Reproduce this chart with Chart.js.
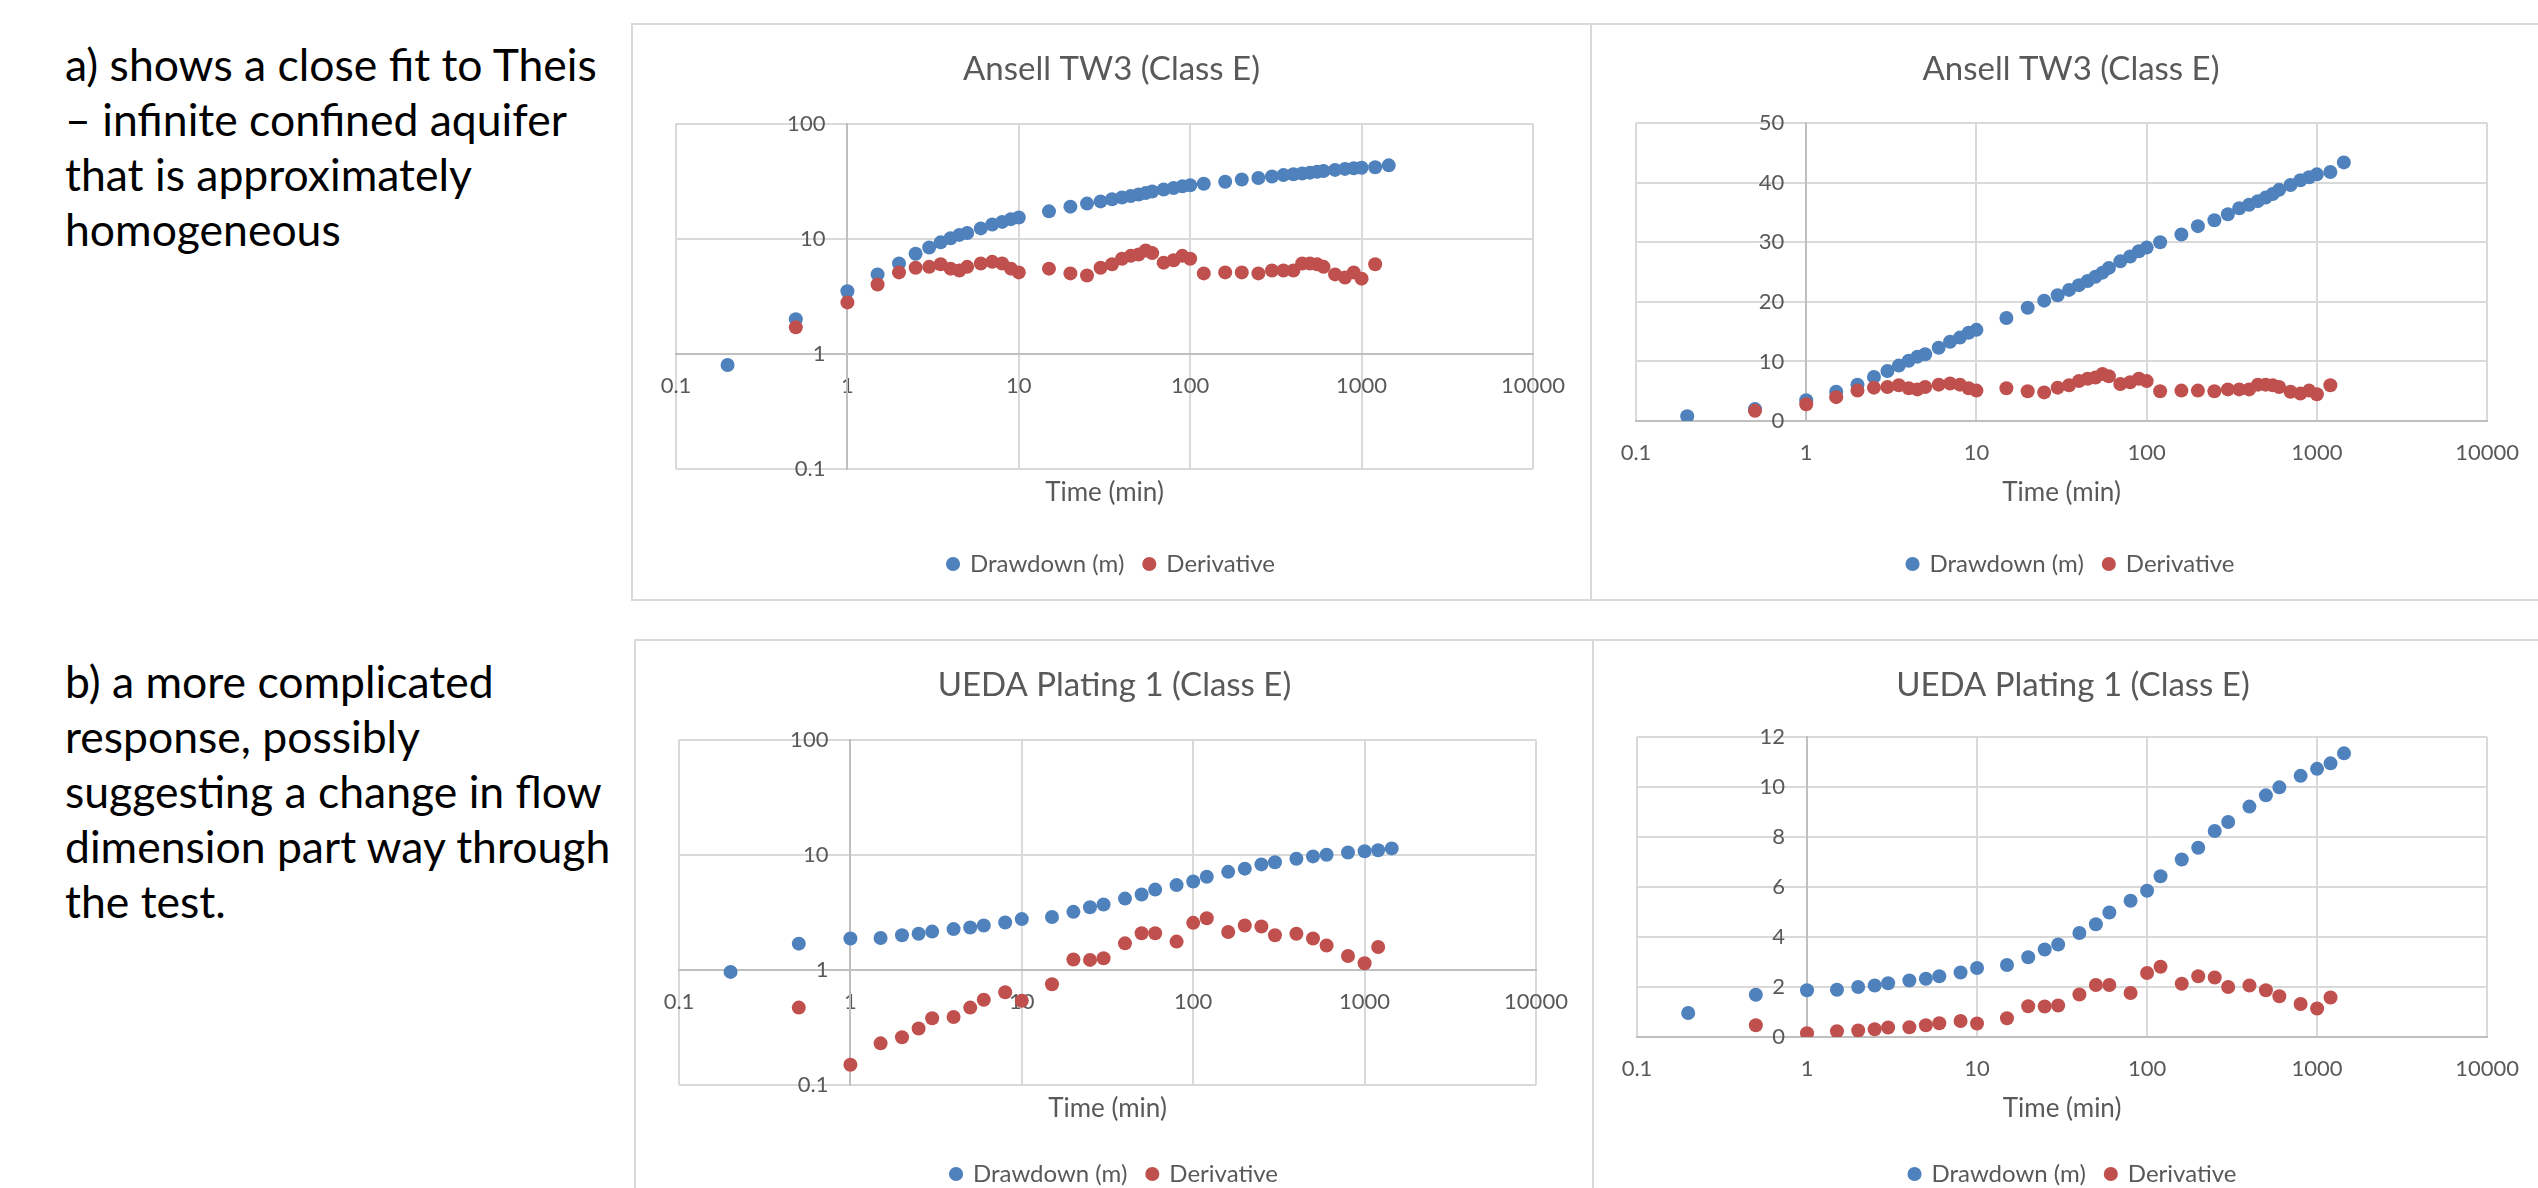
<!DOCTYPE html>
<html>
<head>
<meta charset="utf-8">
<script src="https://cdn.jsdelivr.net/npm/chart.js@4.4.1/dist/chart.umd.min.js"></script>
<style>
  html, body { margin: 0; padding: 0; background: #fff; width: 2538px; height: 1188px; overflow: hidden; }
  .note { position: absolute; left: 65px; font-family: Lato, sans-serif; font-size: 44.5px; line-height: 55px; color: #000; white-space: nowrap; }
  .frame { position: absolute; box-sizing: border-box; border: 2px solid #d9d9d9; }
  canvas { position: absolute; }
</style>
</head>
<body>
<div class="note" style="top:36px">a) shows a close fit to Theis<br>– infinite confined aquifer<br>that is approximately<br>homogeneous</div>
<div class="note" style="top:653px">b) a more complicated<br>response, possibly<br>suggesting a change in flow<br>dimension part way through<br>the test.</div>

<div class="frame" style="left:631px;top:23px;width:961px;height:578px"></div>
<div class="frame" style="left:1590px;top:23px;width:1000px;height:578px"></div>
<div class="frame" style="left:634px;top:639px;width:960px;height:600px"></div>
<div class="frame" style="left:1592px;top:639px;width:1000px;height:600px"></div>

<canvas id="ansellLog" width="959" height="576" style="left:632px;top:24px"></canvas>
<canvas id="ansellLin" width="947" height="576" style="left:1591px;top:24px"></canvas>
<canvas id="uedaLog" width="958" height="576" style="left:635px;top:640px"></canvas>
<canvas id="uedaLin" width="945" height="576" style="left:1593px;top:640px"></canvas>

<script>
// Ansell TW3 (Class E)
var ansellTime = [0.2, 0.5, 1, 1.5, 2, 2.5, 3, 3.5, 4, 4.5, 5, 6, 7, 8, 9, 10, 15, 20, 25, 30, 35, 40, 45, 50, 55, 60,
  70, 80, 90, 100, 120, 160, 200, 250, 300, 350, 400, 450, 500, 550, 600, 700, 800, 900, 1000, 1200, 1440];
var ansellDrawdown = [0.8, 2.0, 3.5, 4.9, 6.1, 7.4, 8.4, 9.3, 10.1, 10.8, 11.2, 12.3, 13.3, 14.0, 14.8, 15.3, 17.3, 19.0,
  20.2, 21.1, 22.0, 22.8, 23.5, 24.2, 24.9, 25.7, 26.8, 27.6, 28.5, 29.1, 30.0, 31.3, 32.7, 33.7, 34.7, 35.7, 36.3,
  36.9, 37.5, 38.1, 38.8, 39.6, 40.4, 40.9, 41.4, 41.8, 43.4];
var ansellDerivTime = [0.5, 1, 1.5, 2, 2.5, 3, 3.5, 4, 4.5, 5, 6, 7, 8, 9, 10, 15, 20, 25, 30, 35, 40, 45, 50, 55, 60,
  70, 80, 90, 100, 120, 160, 200, 250, 300, 350, 400, 450, 500, 550, 600, 700, 800, 900, 1000, 1200];
var ansellDerivative = [1.7, 2.8, 4.0, 5.1, 5.6, 5.7, 6.0, 5.5, 5.3, 5.7, 6.1, 6.3, 6.1, 5.5, 5.1, 5.5, 5.0, 4.8, 5.6,
  6.0, 6.7, 7.1, 7.3, 7.9, 7.5, 6.2, 6.5, 7.1, 6.7, 5.0, 5.1, 5.1, 5.0, 5.3, 5.3, 5.3, 6.1, 6.1, 6.0, 5.7, 4.9, 4.6,
  5.1, 4.5, 6.0];

// UEDA Plating 1 (Class E)
var uedaTime = [0.2, 0.5, 1, 1.5, 2, 2.5, 3, 4, 5, 6, 8, 10, 15, 20, 25, 30, 40, 50, 60, 80, 100, 120, 160, 200, 250,
  300, 400, 500, 600, 800, 1000, 1200, 1440];
var uedaDrawdown = [0.96, 1.69, 1.87, 1.89, 2.0, 2.06, 2.15, 2.26, 2.33, 2.43, 2.58, 2.76, 2.88, 3.19, 3.5, 3.7, 4.16,
  4.51, 4.98, 5.45, 5.85, 6.43, 7.1, 7.57, 8.24, 8.6, 9.22, 9.67, 9.99, 10.45, 10.73, 10.95, 11.35];
var uedaDerivTime = [0.5, 1, 1.5, 2, 2.5, 3, 4, 5, 6, 8, 10, 15, 20, 25, 30, 40, 50, 60, 80, 100, 120, 160, 200, 250,
  300, 400, 500, 600, 800, 1000, 1200];
var uedaDerivative = [0.47, 0.15, 0.23, 0.26, 0.31, 0.38, 0.39, 0.47, 0.55, 0.64, 0.54, 0.75, 1.23, 1.22, 1.26, 1.70,
  2.08, 2.08, 1.76, 2.56, 2.81, 2.13, 2.43, 2.38, 2.0, 2.06, 1.87, 1.63, 1.32, 1.14, 1.58];

// tick labels
var timeTicks = [0.1, 1, 10, 100, 1000, 10000];
var logTicks = [0.1, 1, 10, 100];
var ansellLinTicks = [0, 10, 20, 30, 40, 50];
var uedaLinTicks = [0, 2, 4, 6, 8, 10, 12];

Chart.defaults.font.family = 'Lato, sans-serif';
Chart.defaults.color = '#595959';
Chart.defaults.animation = false;

function points(xs, ys) {
  return xs.map(function (x, i) { return {x: x, y: ys[i]}; });
}

function useTicks(values) {
  return function (axis) { axis.ticks = values.map(function (v) { return {value: v}; }); };
}

// empty side axis, only there to take up room so title and legend sit centred on the frame
function spacer(side, width) {
  return {
    type: 'linear', axis: 'y', position: side,
    ticks: {display: false}, grid: {display: false, drawTicks: false}, border: {display: false},
    afterFit: function (s) { s.width = width; }
  };
}

function makeChart(id, o) {
  var logY = o.yType === 'logarithmic';
  var up = o.legendUp || 0;
  var axisTitle = {display: true, text: 'Time (min)', font: {size: 26}, color: '#595959'};
  var scales = {
    x: {
      type: 'logarithmic', min: 0.1, max: 10000,
      position: logY ? {y: 1} : 'bottom',
      afterBuildTicks: useTicks(timeTicks),
      ticks: {callback: function (v) { return String(v); }, font: {size: 22}, padding: 19, maxRotation: 0, autoSkip: false},
      grid: {color: '#d9d9d9', lineWidth: 2, drawTicks: false},
      border: {color: '#bfbfbf', width: 2},
      title: logY ? {display: false} : Object.assign({padding: {top: -8, bottom: 25.4 - up}}, axisTitle)
    },
    y: {
      type: o.yType, min: o.yTicks[0], max: o.yTicks[o.yTicks.length - 1],
      position: {x: 1},
      afterBuildTicks: useTicks(o.yTicks),
      // labels sit on the x = 1 axis line, the en spaces keep them off it
      ticks: {callback: function (v) { return String(v) + '\u2002\u2002'; }, font: {size: 22}, autoSkip: false},
      grid: {color: '#d9d9d9', lineWidth: 2, drawTicks: false},
      border: {color: '#bfbfbf', width: 2}
    },
    padL: spacer('left', o.left - o.padL),
    padR: spacer('right', o.width - o.padR - 901)
  };
  if (logY) {
    // bottom axis that only carries the "Time (min)" title
    scales.xt = {
      type: 'linear', axis: 'x', position: 'bottom', min: 0, max: 1,
      ticks: {display: false}, grid: {display: false, drawTicks: false}, border: {display: false},
      title: Object.assign({padding: {top: 8.4, bottom: 25.4 - up}}, axisTitle)
    };
  }
  return new Chart(document.getElementById(id), {
    type: 'scatter',
    data: {
      datasets: [{
        label: 'Drawdown (m)',
        data: points(o.time, o.drawdown),
        backgroundColor: '#4f81bd', borderColor: '#4f81bd',
        pointRadius: 7, pointHoverRadius: 7, borderWidth: 0, order: 1
      }, {
        label: 'Derivative',
        data: points(o.derivTime, o.derivative),
        backgroundColor: '#c0504d', borderColor: '#c0504d',
        pointRadius: 7, pointHoverRadius: 7, borderWidth: 0, order: 0
      }]
    },
    options: {
      responsive: false,
      events: [],
      layout: {padding: {left: o.padL, right: o.padR, top: 0, bottom: 12 + up}},
      scales: scales,
      plugins: {
        title: {display: true, text: o.title, font: {size: 33, weight: 'normal'}, color: '#595959',
          padding: {top: 26, bottom: o.titleGap}},
        legend: {
          position: 'bottom',
          labels: {
            usePointStyle: true, pointStyle: 'circle', boxWidth: 10, boxHeight: 10, padding: 20,
            font: {size: 24}, color: '#595959',
            sort: function (a, b) { return a.datasetIndex - b.datasetIndex; }
          }
        },
        tooltip: {enabled: false}
      }
    }
  });
}

makeChart('ansellLog', {title: 'Ansell TW3 (Class E)', yType: 'logarithmic', yTicks: logTicks,
  time: ansellTime, drawdown: ansellDrawdown, derivTime: ansellDerivTime, derivative: ansellDerivative,
  width: 959, left: 44, padL: 30, padR: 30, titleGap: 34, legendUp: 2});
makeChart('ansellLin', {title: 'Ansell TW3 (Class E)', yType: 'linear', yTicks: ansellLinTicks,
  time: ansellTime, drawdown: ansellDrawdown, derivTime: ansellDerivTime, derivative: ansellDerivative,
  width: 947, left: 45, padL: 30, padR: 17, titleGap: 33.5, legendUp: 2});
makeChart('uedaLog', {title: 'UEDA Plating 1 (Class E)', yType: 'logarithmic', yTicks: logTicks,
  time: uedaTime, drawdown: uedaDrawdown, derivTime: uedaDerivTime, derivative: uedaDerivative,
  width: 958, left: 44, padL: 30, padR: 29, titleGap: 34, legendUp: 8});
makeChart('uedaLin', {title: 'UEDA Plating 1 (Class E)', yType: 'linear', yTicks: uedaLinTicks,
  time: uedaTime, drawdown: uedaDrawdown, derivTime: uedaDerivTime, derivative: uedaDerivative,
  width: 945, left: 44, padL: 30, padR: 15, titleGap: 31.5, legendUp: 8});
</script>
</body>
</html>
